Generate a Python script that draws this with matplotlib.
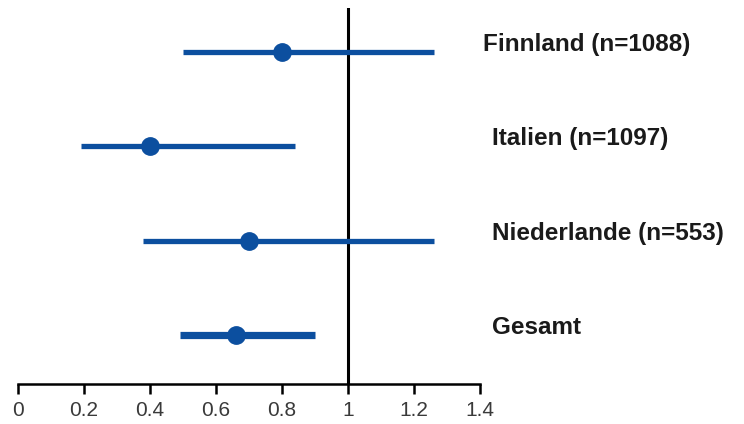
import matplotlib.pyplot as plt

labels = ["Finnland (n=1088)", "Italien (n=1097)", "Niederlande (n=553)", "Gesamt"]
estimate = [0.80, 0.40, 0.70, 0.66]
ci_low = [0.50, 0.19, 0.38, 0.49]
ci_high = [1.26, 0.84, 1.26, 0.90]
rows = [4, 3, 2, 1]

blue = "#0c4f9f"
font = ["Liberation Sans", "DejaVu Sans"]

fig = plt.figure(figsize=(7.44, 4.24), dpi=100)
ax = fig.add_axes([18 / 744, 40 / 424, 462 / 744, 376 / 424])

for i, lab in enumerate(labels):
    lw = 5.2 if lab == "Gesamt" else 3.8
    ax.plot([ci_low[i], ci_high[i]], [rows[i], rows[i]], color=blue, lw=lw,
            solid_capstyle="butt", zorder=2)
    ax.plot(estimate[i], rows[i], "o", color=blue, markersize=12.5, zorder=3)
    x_text = 1.41 if i == 0 else 1.437
    ax.text(x_text, rows[i] + 0.08, lab, fontsize=17.5, fontweight="bold",
            family=font, color="#1a1a1a",
            va="center", ha="left", clip_on=False)

ax.axvline(1.0, color="black", lw=2.2, zorder=1)

ax.set_xlim(0, 1.4)
ax.set_ylim(0.48, 4.467)
ax.set_xticks([0, 0.2, 0.4, 0.6, 0.8, 1.0, 1.2, 1.4])
ax.set_xticklabels(["0", "0.2", "0.4", "0.6", "0.8", "1", "1.2", "1.4"],
                   family=font, fontsize=15, color="#3a3a3a")
ax.set_yticks([])
for side in ["left", "right", "top"]:
    ax.spines[side].set_visible(False)
ax.spines["bottom"].set_linewidth(1.8)
ax.tick_params(axis="x", length=7, width=1.8, pad=5)

fig.savefig("out.png", dpi=100)
